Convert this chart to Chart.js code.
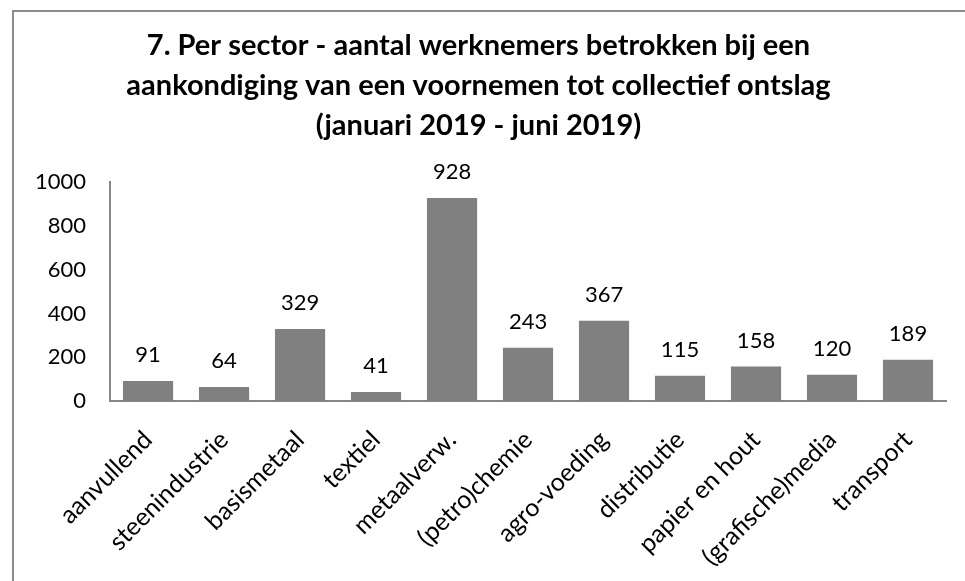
<!DOCTYPE html>
<html>
<head>
<meta charset="utf-8">
<script src="https://cdn.jsdelivr.net/npm/chart.js@4"></script>
<style>
  html, body { margin: 0; padding: 0; background: #fff; }
  #wrap { position: relative; width: 965px; height: 581px; }
  #frame { position: absolute; left: 12px; top: 10px; right: 0; bottom: 0;
           border-top: 2px solid #8c8c8c; border-left: 2px solid #8c8c8c; }
  canvas { position: absolute; left: 0; top: 0; }
</style>
</head>
<body>
<div id="wrap">
  <div id="frame"></div>
  <canvas id="myChart" width="965" height="581"></canvas>
</div>
<script>
const labels = ["aanvullend", "steenindustrie", "basismetaal", "textiel", "metaalverw.",
  "(petro)chemie", "agro-voeding", "distributie", "papier en hout", "(grafische)media", "transport"];
const werknemers = [91, 64, 329, 41, 928, 243, 367, 115, 158, 120, 189];
const yTicks = [0, 200, 400, 600, 800, 1000];

const titleLines = [
  "7. Per sector - aantal werknemers betrokken bij een",
  "aankondiging van een voornemen tot collectief ontslag",
  "(januari 2019 - juni 2019)"
];

const FONT = "Lato, 'Open Sans', sans-serif";

// values above the bars
const valueLabels = {
  id: "valueLabels",
  afterDatasetsDraw(chart) {
    const c = chart.ctx;
    const meta = chart.getDatasetMeta(0);
    c.save();
    c.font = "22px " + FONT;
    c.fillStyle = "#000";
    c.textAlign = "center";
    c.textBaseline = "middle";
    meta.data.forEach((bar, i) => {
      c.fillText(String(werknemers[i]), bar.x, bar.y - 26);
    });
    c.restore();
  }
};

const ctx = document.getElementById("myChart").getContext("2d");

new Chart(ctx, {
  type: "bar",
  data: {
    labels,
    datasets: [{
      data: werknemers,
      backgroundColor: "#808080",
      categoryPercentage: 0.66,
      barPercentage: 1.0
    }]
  },
  options: {
    responsive: false,
    animation: false,
    layout: { padding: { left: 11, right: 19, top: 0, bottom: 0 } },
    plugins: {
      legend: { display: false },
      tooltip: { enabled: false },
      title: {
        display: true,
        text: titleLines,
        color: "#000",
        font: { family: FONT, size: 29, weight: "bold", lineHeight: 1.37 },
        padding: { top: 26, bottom: 37 }
      }
    },
    scales: {
      x: {
        grid: { display: false, drawTicks: false },
        border: { color: "#868686", width: 2 },
        afterFit: (axis) => { axis.height = 180; },
        ticks: {
          color: "#000",
          font: { family: FONT, size: 25 },
          minRotation: 45,
          maxRotation: 45,
          padding: 24,
          autoSkip: false
        }
      },
      y: {
        min: 0,
        max: 1000,
        afterBuildTicks: (axis) => { axis.ticks = yTicks.map(v => ({ value: v })); },
        grid: { display: false, drawTicks: false },
        border: { color: "#868686", width: 2 },
        ticks: {
          color: "#000",
          font: { family: FONT, size: 22 },
          padding: 24,
          callback: (v) => String(v)
        }
      }
    }
  },
  plugins: [valueLabels]
});
</script>
</body>
</html>
